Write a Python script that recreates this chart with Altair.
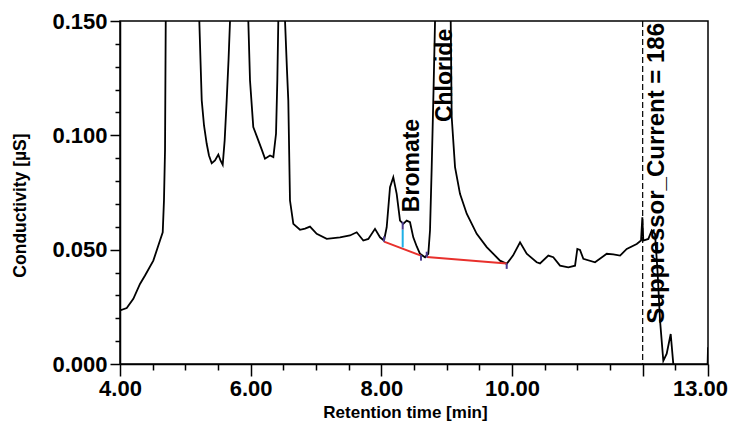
import altair as alt
import pandas as pd

# chromatogram trace (retention time [min], conductivity [µS]); off-scale peak apexes are clipped
times = [4.000, 4.103, 4.204, 4.306, 4.383, 4.510, 4.612, 4.654, 4.673, 4.689, 4.700,
         4.950,
         5.214, 5.232, 5.251, 5.286, 5.327, 5.362, 5.404, 5.454, 5.505, 5.538, 5.572,
         5.602, 5.633, 5.661, 5.684,
         5.820,
         5.964, 5.990, 6.040, 6.117, 6.174, 6.219, 6.296, 6.347, 6.388, 6.408, 6.423,
         6.470,
         6.526, 6.556, 6.576, 6.602, 6.653, 6.755, 6.832, 6.908, 7.011, 7.164, 7.367,
         7.520, 7.623, 7.724, 7.801, 7.903, 7.980, 8.041, 8.082, 8.133, 8.183, 8.235,
         8.286, 8.336, 8.388, 8.439, 8.489, 8.542, 8.592, 8.669, 8.719, 8.745, 8.771,
         8.799, 8.822,
         8.930,
         9.062, 9.077, 9.128, 9.204, 9.307, 9.460, 9.613, 9.817, 9.919, 10.015, 10.123,
         10.225, 10.378, 10.429, 10.556, 10.632, 10.735, 10.862, 10.965, 11.000, 11.041,
         11.092, 11.271, 11.450, 11.551, 11.654, 11.756, 11.909, 11.975, 11.995, 12.010,
         12.087, 12.139, 12.189, 12.227, 12.266, 12.316, 12.368, 12.429, 12.469, 12.500,
         12.700, 12.900, 12.990, 13.000]
values = [0.0234, 0.0245, 0.0285, 0.0350, 0.0387, 0.0452, 0.0540, 0.0576, 0.0715, 0.0934, 0.150,
          0.500,
          0.150, 0.1328, 0.1153, 0.1043, 0.0963, 0.0912, 0.0878, 0.0890, 0.0916, 0.0890, 0.0871,
          0.0978, 0.1153, 0.1328, 0.150,
          0.400,
          0.150, 0.124, 0.1036, 0.0978, 0.0934, 0.0898, 0.0912, 0.0905, 0.1007, 0.124, 0.150,
          0.350,
          0.150, 0.1284, 0.1153, 0.0715, 0.0613, 0.0587, 0.0592, 0.0601, 0.0569, 0.0547, 0.0554,
          0.0562, 0.0576, 0.0540, 0.0547, 0.0591, 0.0554, 0.0540, 0.0598, 0.0773, 0.0817, 0.0744,
          0.0627, 0.0613, 0.0627, 0.0620, 0.0554, 0.0514, 0.0482, 0.0467, 0.0482, 0.0584, 0.0861,
          0.1197, 0.150,
          1.000,
          0.150, 0.1080, 0.0861, 0.0744, 0.0657, 0.0569, 0.0511, 0.0452, 0.0438, 0.0474, 0.0532,
          0.0482, 0.0445, 0.0440, 0.0474, 0.0467, 0.0430, 0.0423, 0.0430, 0.0503, 0.0499,
          0.0460, 0.0445, 0.0482, 0.0479, 0.0474, 0.0503, 0.0525, 0.0540, 0.0642, 0.0540,
          0.0547, 0.0584, 0.0569, 0.0408, 0.0190, 0.0014, 0.0045, 0.0131, 0.000, -0.010,
          -0.020, -0.015, -0.005, 0.0073]

# integration baseline (red) segments
base_t = [8.041, 8.607, 8.695, 9.919]
base_v = [0.0535, 0.0474, 0.0468, 0.0440]
base_seg = [1, 1, 2, 2]

# peak delimiter marks (purple)
mark_t = [8.041, 8.327, 8.607, 8.695, 9.919]
mark_lo = [0.0535, 0.0588, 0.0452, 0.0466, 0.0416]
mark_hi = [0.0558, 0.0622, 0.0477, 0.0491, 0.0440]

# peak split line (cyan)
split_t = [8.327]
split_lo = [0.0510]
split_hi = [0.0588]

# event line
event_t = [12.0]

# peak labels
label_text = ["Bromate", "Chloride"]
label_t = [8.465, 8.975]
label_v = [0.0664, 0.1058]

# event label
event_text = ["Suppressor_Current = 186"]
event_label_t = [12.227]
event_label_v = [0.0176]

x_ticks = [4, 4.5, 5, 5.5, 6, 6.5, 7, 7.5, 8, 8.5, 9, 9.5, 10, 10.5, 11, 11.5, 12, 12.5, 13]
x_major_test = "abs(datum.value % 2) < 1e-6 || abs(datum.value - 13) < 1e-6"
x_label_test = "(abs(datum.value % 2) < 1e-6 && abs(datum.value - 12) > 1e-6) || abs(datum.value - 13) < 1e-6"
y_ticks = [0, 0.01, 0.02, 0.03, 0.04, 0.05, 0.06, 0.07, 0.08, 0.09, 0.10,
           0.11, 0.12, 0.13, 0.14, 0.15]
y_major_test = "abs(datum.value * 20 - round(datum.value * 20)) < 1e-6"

FONT = "Liberation Sans"

trace = pd.DataFrame({"t": times, "v": values})
base = pd.DataFrame({"t": base_t, "v": base_v, "seg": base_seg})
marks = pd.DataFrame({"t": mark_t, "lo": mark_lo, "hi": mark_hi})
split = pd.DataFrame({"t": split_t, "lo": split_lo, "hi": split_hi})
event = pd.DataFrame({"t": event_t})
labels = pd.DataFrame({"text": label_text, "t": label_t, "v": label_v})
event_labels = pd.DataFrame({"text": event_text, "t": event_label_t, "v": event_label_v})

xs = alt.Scale(domain=[4, 13], nice=False, zero=False)
ys = alt.Scale(domain=[0, 0.15], nice=False, zero=False)

x_axis = alt.Axis(values=x_ticks, tickCount=100,
                  labelExpr=f"({x_label_test}) ? format(datum.value, '.2f') : ''",
                  tickSize={"condition": {"test": x_major_test, "value": 12}, "value": 6},
                  labelOffset={"condition": {"test": "abs(datum.value - 13) < 1e-6", "value": -8},
                               "value": 0},
                  tickWidth=1.5, tickColor="black",
                  domainColor="black", domainWidth=1.5, grid=False,
                  labelFont=FONT, labelFontSize=22, labelFontWeight="bold",
                  labelColor="black", labelPadding=2, labelFlush=False,
                  labelOverlap=False,
                  title="Retention time [min]", titleFont=FONT, titleFontSize=17,
                  titleFontWeight="bold", titleColor="black",
                  titleX=285, titleY=48, titleBaseline="middle", orient="bottom")
y_axis = alt.Axis(values=y_ticks, tickCount=100,
                  labelExpr=f"({y_major_test}) ? format(datum.value, '.3f') : ''",
                  tickSize={"condition": {"test": y_major_test, "value": 10}, "value": 5},
                  tickWidth=1.5, tickColor="black",
                  domainColor="black", domainWidth=1.5, grid=False,
                  labelFont=FONT, labelFontSize=22, labelFontWeight="bold",
                  labelColor="black", labelPadding=3, labelFlush=False,
                  labelOverlap=False,
                  title="Conductivity [µS]", titleFont=FONT, titleFontSize=17.5,
                  titleFontWeight="bold", titleColor="black",
                  titleX=-100, titleY=184, titleBaseline="middle", titleAngle=270,
                  orient="left")

line = alt.Chart(trace).mark_line(color="black", strokeWidth=1.8, clip=True).encode(
    x=alt.X("t:Q", scale=xs, axis=x_axis),
    y=alt.Y("v:Q", scale=ys, axis=y_axis),
    order="t:Q",
)

event_rule = alt.Chart(event).mark_rule(color="black", strokeWidth=1.2, strokeDash=[6, 3]).encode(
    x=alt.X("t:Q", scale=xs),
    y=alt.value(0),
    y2=alt.value(343),
)

baseline = alt.Chart(base).mark_line(color="#e8302c", strokeWidth=2).encode(
    x=alt.X("t:Q", scale=xs), y=alt.Y("v:Q", scale=ys), detail="seg:N"
)

split_rule = alt.Chart(split).mark_rule(color="#1fb0e6", strokeWidth=2).encode(
    x=alt.X("t:Q", scale=xs), y=alt.Y("lo:Q", scale=ys), y2="hi:Q"
)

mark_rules = alt.Chart(marks).mark_rule(color="#4b3b8f", strokeWidth=2).encode(
    x=alt.X("t:Q", scale=xs), y=alt.Y("lo:Q", scale=ys), y2="hi:Q"
)

text = alt.Chart(labels).mark_text(angle=270, align="left", baseline="middle",
                                   font=FONT, fontSize=23, fontWeight="bold",
                                   color="black").encode(
    x=alt.X("t:Q", scale=xs), y=alt.Y("v:Q", scale=ys), text="text:N"
)

event_text_layer = alt.Chart(event_labels).mark_text(angle=270, align="left", baseline="middle",
                                                     font=FONT, fontSize=24, fontWeight="bold",
                                                     color="black").encode(
    x=alt.X("t:Q", scale=xs), y=alt.Y("v:Q", scale=ys), text="text:N"
)

chart = alt.layer(line, event_rule, baseline, split_rule, mark_rules, text,
                  event_text_layer).properties(
    width=588, height=343,
    autosize=alt.AutoSizeParams(type="none"),
    padding={"left": 112, "top": 13, "right": 20, "bottom": 59},
).configure_view(stroke="black", strokeWidth=1.5)

chart.save("out.html", embed_options={"renderer": "svg", "actions": False})
